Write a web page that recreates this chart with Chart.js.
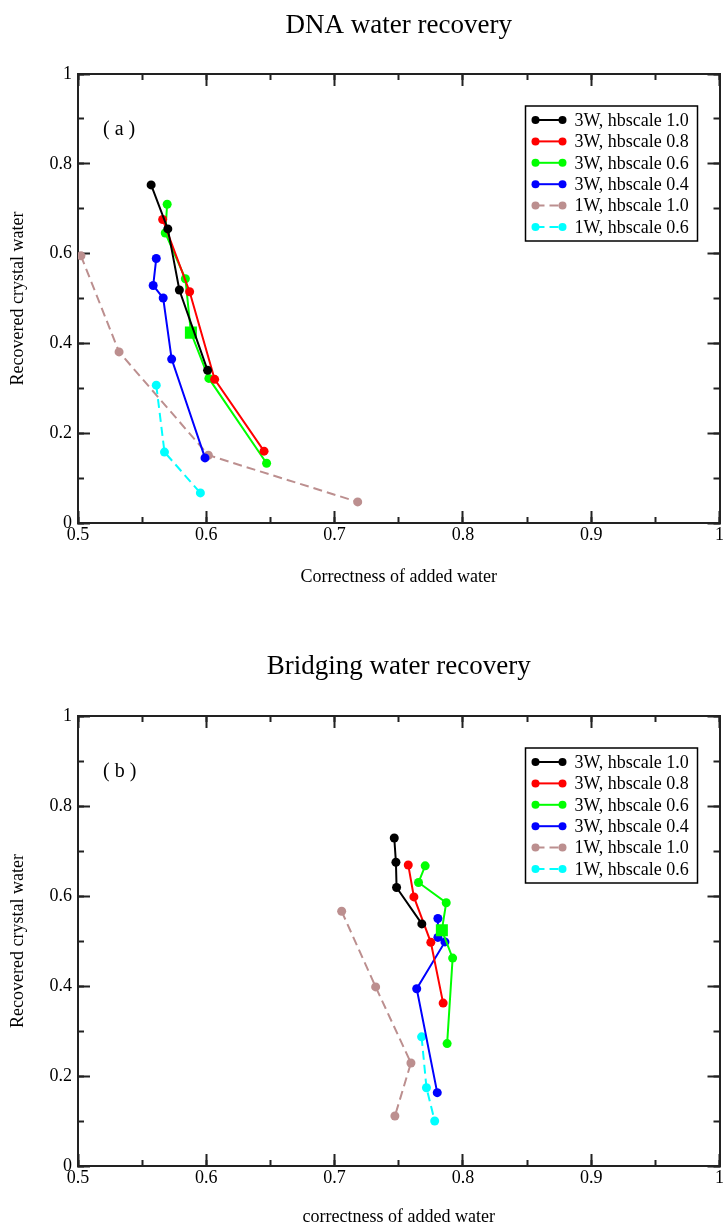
<!DOCTYPE html>
<html>
<head>
<meta charset="utf-8">
<script src="https://cdn.jsdelivr.net/npm/chart.js@4.4.0/dist/chart.umd.min.js"></script>
<style>
  html, body { margin: 0; padding: 0; background: #fff; }
  canvas { display: block; }
</style>
</head>
<body>
<canvas id="dnaChart" width="724" height="613"></canvas>
<canvas id="bridgeChart" width="724" height="613"></canvas>
<script>
// series names (legend)
const seriesNames = ['3W, hbscale 1.0', '3W, hbscale 0.8', '3W, hbscale 0.6',
                     '3W, hbscale 0.4', '1W, hbscale 1.0', '1W, hbscale 0.6'];

// tick positions
const xMajorTicks = [0.5, 0.6, 0.7, 0.8, 0.9, 1];
const xMinorTicks = [0.5, 0.55, 0.6, 0.65, 0.7, 0.75, 0.8, 0.85, 0.9, 0.95, 1];
const yMajorTicks = [0, 0.2, 0.4, 0.6, 0.8, 1];
const yMinorTicks = [0, 0.1, 0.2, 0.3, 0.4, 0.5, 0.6, 0.7, 0.8, 0.9, 1];

// (a) DNA water recovery
const dnaX3w10 = [0.557, 0.570, 0.579, 0.601];
const dnaY3w10 = [0.753, 0.655, 0.519, 0.340];
const dnaX3w08 = [0.566, 0.587, 0.6065, 0.645];
const dnaY3w08 = [0.676, 0.515, 0.320, 0.160];
const dnaX3w06 = [0.5695, 0.568, 0.5837, 0.588, 0.602, 0.647];
const dnaY3w06 = [0.710, 0.646, 0.544, 0.424, 0.322, 0.133];
const dnaX3w04 = [0.561, 0.5586, 0.5664, 0.573, 0.599];
const dnaY3w04 = [0.589, 0.529, 0.501, 0.365, 0.145];
const dnaX1w10 = [0.5023, 0.532, 0.6016, 0.718];
const dnaY1w10 = [0.595, 0.381, 0.151, 0.047];
const dnaX1w06 = [0.561, 0.5674, 0.5954];
const dnaY1w06 = [0.307, 0.158, 0.067];

// (b) Bridging water recovery
const brX3w10 = [0.7465, 0.7478, 0.7483, 0.768];
const brY3w10 = [0.729, 0.675, 0.619, 0.538];
const brX3w08 = [0.7574, 0.7618, 0.775, 0.7846];
const brY3w08 = [0.669, 0.598, 0.497, 0.362];
const brX3w06 = [0.7706, 0.7654, 0.787, 0.7836, 0.792, 0.7877];
const brY3w06 = [0.667, 0.630, 0.585, 0.524, 0.462, 0.272];
const brX3w04 = [0.7805, 0.7805, 0.786, 0.764, 0.780];
const brY3w04 = [0.550, 0.508, 0.498, 0.394, 0.163];
const brX1w10 = [0.7055, 0.732, 0.7595, 0.747];
const brY1w10 = [0.566, 0.398, 0.229, 0.111];
const brX1w06 = [0.7678, 0.7716, 0.778];
const brY1w06 = [0.287, 0.174, 0.100];

const colors = ['#000000', '#ff0000', '#00ff00', '#0000ff', '#bc8f8f', '#00ffff'];
const dashes = [[], [], [], [], [9, 5], [9, 5]];
const squareIndex = 3; // big square marker on the 3W 0.6 series

Chart.defaults.font.family = "'Liberation Serif', 'DejaVu Serif', serif";
Chart.defaults.color = '#000';

function makeDatasets(xs, ys) {
  return xs.map((xv, s) => {
    const pts = xv.map((x, i) => ({ x: x, y: ys[s][i] }));
    const big = s === 2;
    return {
      label: seriesNames[s],
      data: pts,
      showLine: true,
      borderColor: colors[s],
      backgroundColor: colors[s],
      borderWidth: 2,
      borderDash: dashes[s],
      pointBackgroundColor: colors[s],
      pointBorderWidth: 0,
      pointStyle: pts.map((p, i) => big && i === squareIndex ? 'rect' : 'circle'),
      pointRadius: pts.map((p, i) => big && i === squareIndex ? 8.5 : 4.5)
    };
  });
}

const axisColor = '#222';

function axis(pos, values, len, extra) {
  const vertical = pos === 'left' || pos === 'right';
  return Object.assign({
    type: 'linear',
    position: pos,
    min: vertical ? 0 : 0.5,
    max: 1,
    weight: 0,
    afterBuildTicks: s => { s.ticks = values.map(v => ({ value: v })); },
    border: { display: false },
    grid: { drawOnChartArea: false, drawTicks: true, tickLength: -len, tickColor: axisColor, tickWidth: 2 },
    ticks: { display: false },
    afterFit: s => {
      if (vertical) s.width = 0; else s.height = 0;
      s.paddingLeft = 0; s.paddingRight = 0; s.paddingTop = 0; s.paddingBottom = 0;
    }
  }, extra);
}

function buildScales(xTitle, xBoxHeight, xTitlePad) {
  const frame = { display: true, color: axisColor, width: 2 };
  return {
    x: axis('bottom', xMajorTicks, 12, {
      weight: 1,
      border: frame,
      ticks: { display: true, padding: 13, color: '#000', font: { size: 18 }, callback: v => String(v) },
      title: { display: true, text: xTitle, color: '#000', font: { size: 18, lineHeight: 1 }, padding: { top: 0, bottom: xTitlePad } },
      afterFit: s => { s.height = xBoxHeight; s.paddingLeft = 0; s.paddingRight = 0; }
    }),
    xMinor: axis('bottom', xMinorTicks, 6),
    xTop: axis('top', xMajorTicks, 12, { border: frame }),
    xTopMinor: axis('top', xMinorTicks, 6),
    y: axis('left', yMajorTicks, 12, {
      weight: 1,
      border: frame,
      ticks: { display: true, padding: 18, color: '#000', font: { size: 18 }, callback: v => String(v) },
      title: { display: true, text: 'Recovered crystal water', color: '#000', font: { size: 18 }, padding: { top: 7, bottom: 0 } },
      afterFit: s => { s.width = 78; s.paddingTop = 0; s.paddingBottom = 0; }
    }),
    yMinor: axis('left', yMinorTicks, 6),
    yRight: axis('right', yMajorTicks, 12, { border: frame }),
    yRightMinor: axis('right', yMinorTicks, 6)
  };
}

// panel tag "( a )" and the boxed legend inside the plot
const panelExtras = {
  id: 'panelExtras',
  afterDraw(chart, args, opts) {
    const { ctx, chartArea } = chart;
    ctx.save();
    ctx.fillStyle = '#000';
    ctx.textBaseline = 'middle';
    ctx.font = "20px 'Liberation Serif'";
    ctx.fillText(opts.tag, chartArea.left + 25, chartArea.top + 56);

    const bx = chartArea.right - 194, by = chartArea.top + 32, bw = 172, bh = 135;
    ctx.strokeStyle = '#000';
    ctx.lineWidth = 1.5;
    ctx.strokeRect(bx, by, bw, bh);
    ctx.font = "18px 'Liberation Serif'";
    chart.data.datasets.forEach((ds, i) => {
      const y = by + 14 + i * 21.4;
      ctx.strokeStyle = ds.borderColor;
      ctx.lineWidth = 2;
      ctx.setLineDash(ds.borderDash);
      ctx.beginPath();
      ctx.moveTo(bx + 10, y);
      ctx.lineTo(bx + 37, y);
      ctx.stroke();
      ctx.setLineDash([]);
      ctx.fillStyle = ds.borderColor;
      [bx + 10, bx + 37].forEach(px => {
        ctx.beginPath();
        ctx.arc(px, y, 4, 0, Math.PI * 2);
        ctx.fill();
      });
      ctx.fillStyle = '#000';
      ctx.fillText(ds.label, bx + 49, y + 1);
    });
    ctx.restore();
  }
};

function makeChart(id, title, titlePad, xTitle, xBoxHeight, xTitlePad, tag, xs, ys) {
  return new Chart(document.getElementById(id), {
    type: 'scatter',
    data: { datasets: makeDatasets(xs, ys) },
    options: {
      responsive: false,
      animation: false,
      layout: { padding: { left: 0, right: 3, top: 0, bottom: 0 } },
      scales: buildScales(xTitle, xBoxHeight, xTitlePad),
      plugins: {
        legend: { display: false },
        tooltip: { enabled: false },
        title: { display: true, text: title, fullSize: false, color: '#000', font: { size: 27, weight: 'normal' }, padding: titlePad },
        panelExtras: { tag: tag }
      }
    },
    plugins: [panelExtras]
  });
}

makeChart('dnaChart', 'DNA water recovery', { top: 10, bottom: 31.6 },
  'Correctness of added water', 90, 27, '( a )',
  [dnaX3w10, dnaX3w08, dnaX3w06, dnaX3w04, dnaX1w10, dnaX1w06],
  [dnaY3w10, dnaY3w08, dnaY3w06, dnaY3w04, dnaY1w10, dnaY1w06]);

makeChart('bridgeChart', 'Bridging water recovery', { top: 38, bottom: 32.6 },
  'correctness of added water', 60, 0, '( b )',
  [brX3w10, brX3w08, brX3w06, brX3w04, brX1w10, brX1w06],
  [brY3w10, brY3w08, brY3w06, brY3w04, brY1w10, brY1w06]);
</script>
</body>
</html>
